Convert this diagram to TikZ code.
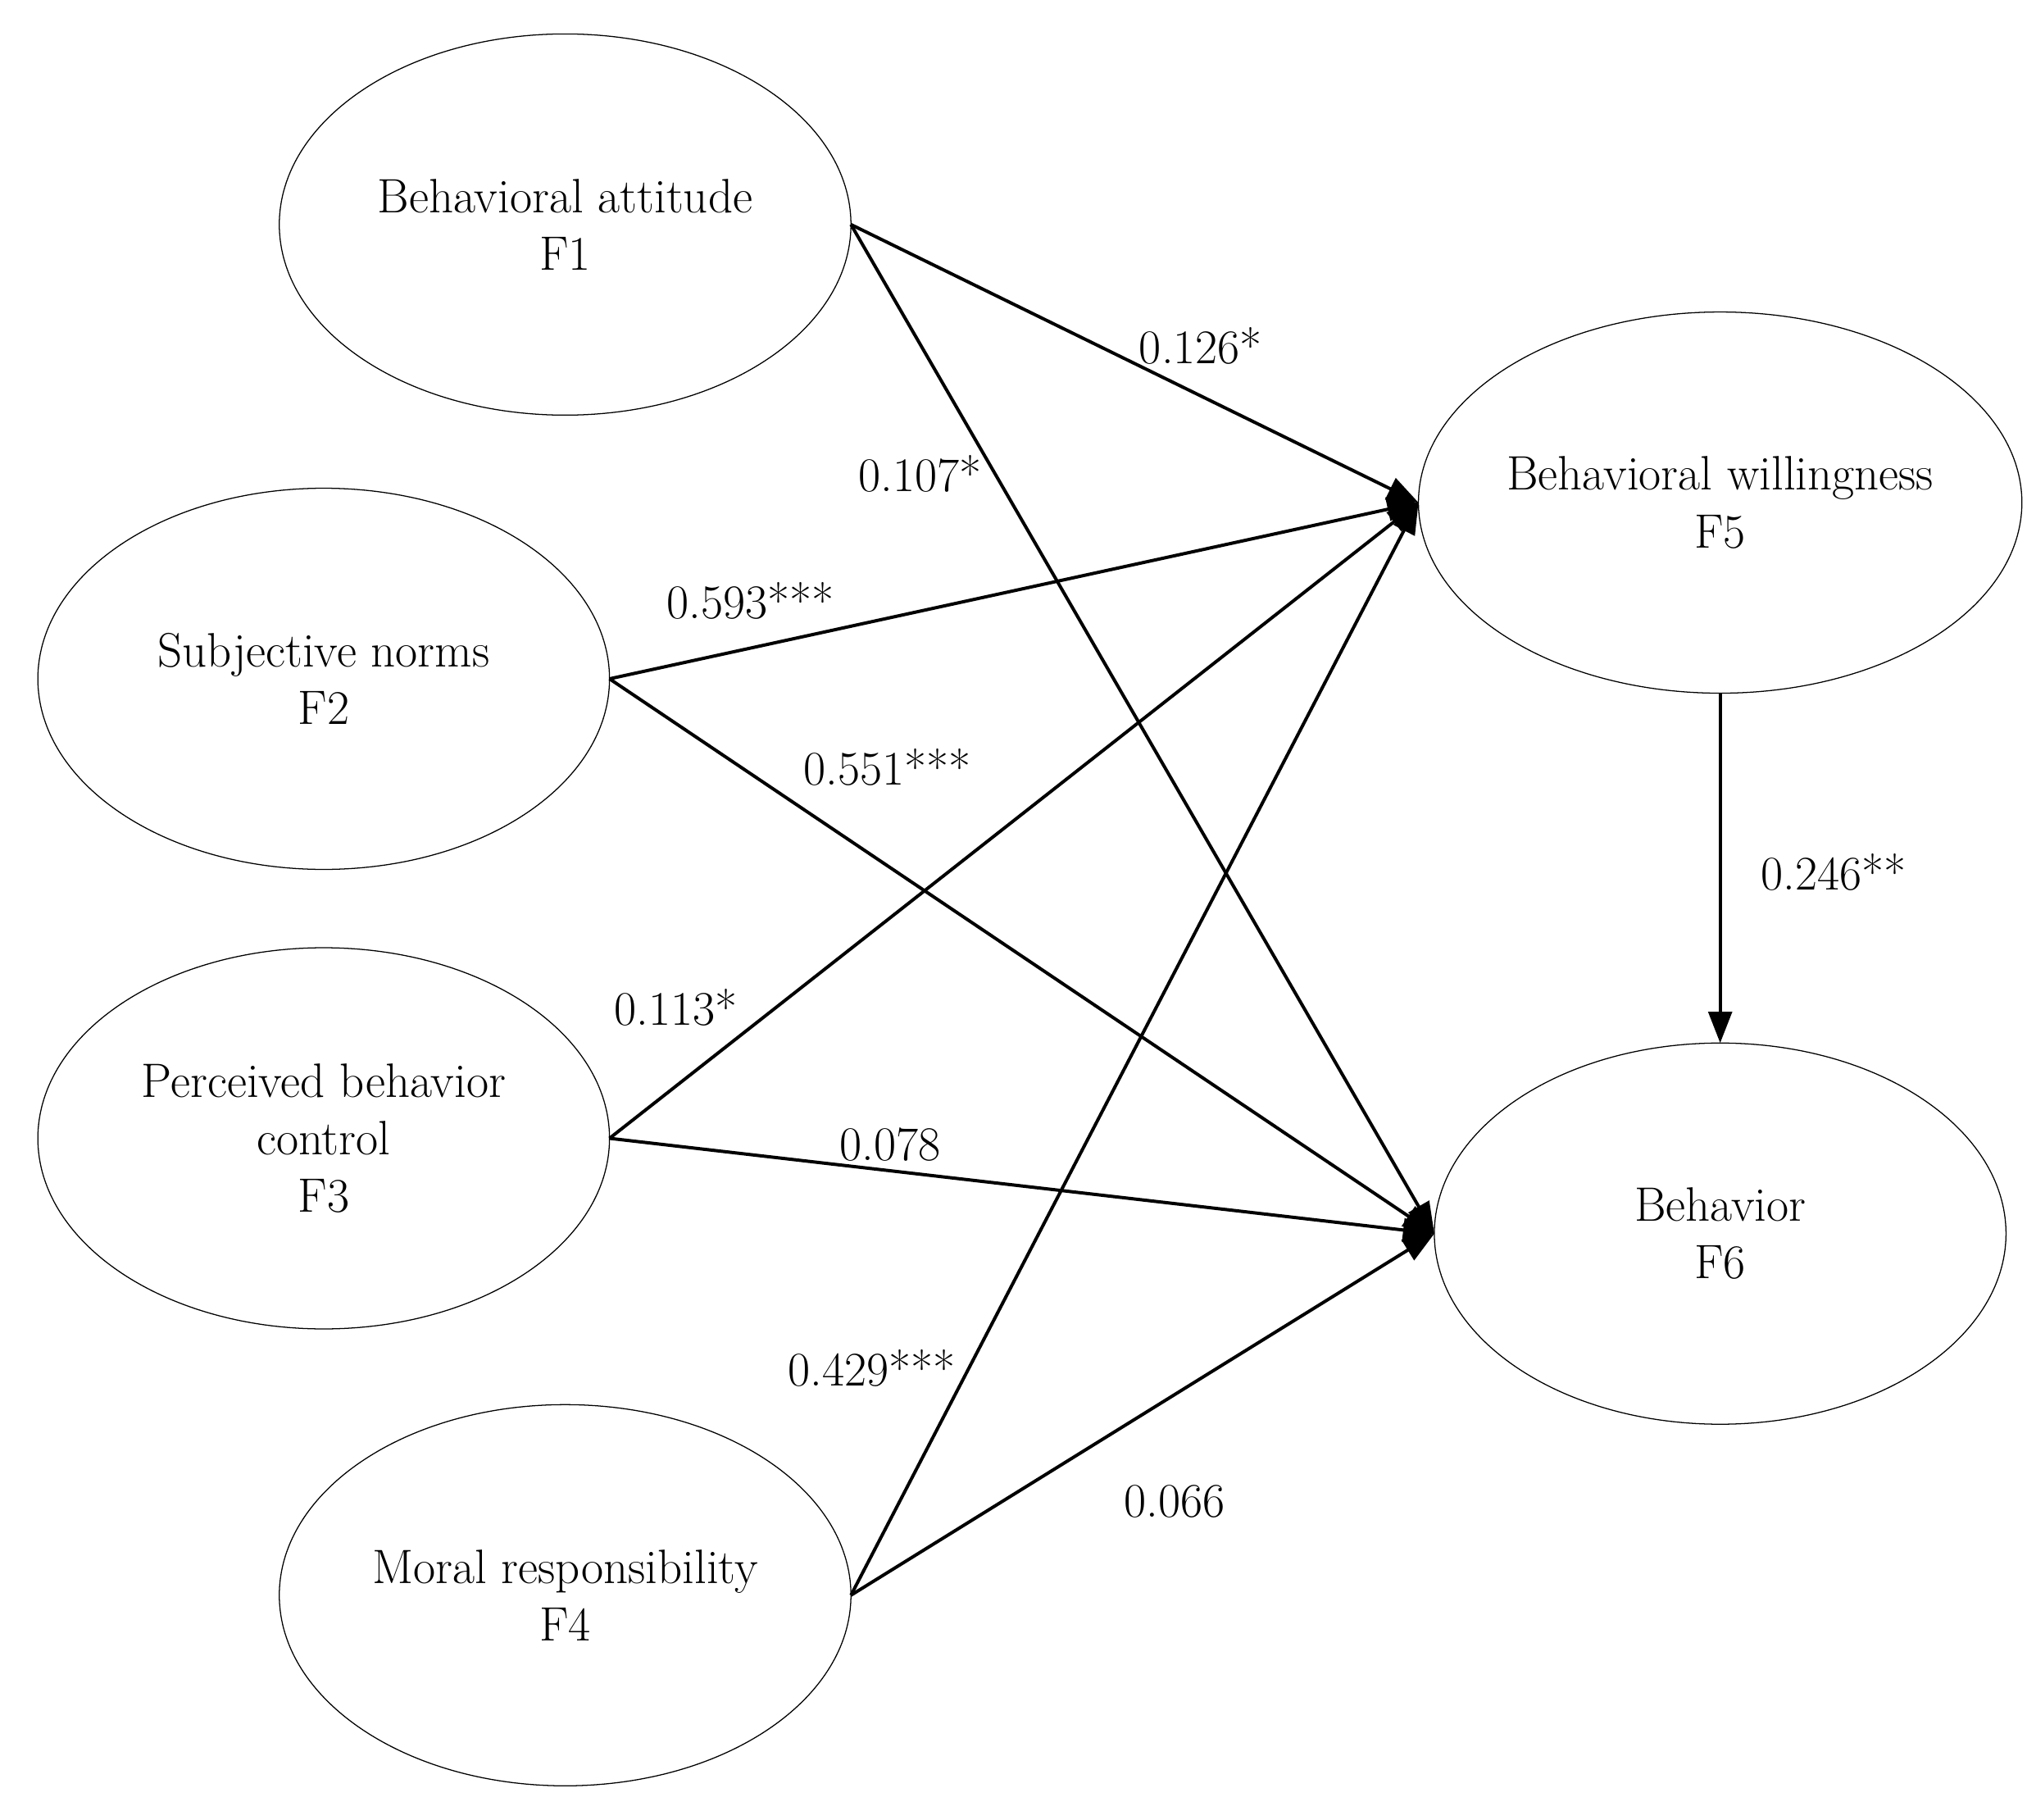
\documentclass[tikz,border=0pt]{standalone}
\usetikzlibrary{arrows.meta,shapes.geometric}
\begin{document}
\begin{tikzpicture}[x=1pt,y=-1pt,
  lat/.style={draw,ellipse,line width=0.8pt,minimum width=438pt,minimum height=292pt,inner sep=0pt,outer sep=0pt,align=center,font=\fontsize{37}{44}\selectfont},
  path/.style={line width=2.5pt,-{Triangle[length=24pt,width=18pt]}},
  lab/.style={font=\fontsize{37}{44}\selectfont}]
\useasboundingbox (0,0) rectangle (1560,1394);
\node[lat] (F1) at (433,172) {Behavioral attitude\\F1};
\node[lat] (F2) at (248,520) {Subjective norms\\F2};
\node[lat] (F3) at (248,872) {Perceived behavior\\control\\F3};
\node[lat] (F4) at (433,1222) {Moral responsibility\\F4};
\node[lat] (F5) at (1318,385) {Behavioral willingness\\F5};
\node[lat] (F6) at (1318,945) {Behavior\\F6};
\foreach \s in {F1,F2,F3,F4}{
  \draw[path] (\s.east) -- (F5.west);
  \draw[path] (\s.east) -- (F6.west);}
\draw[path] (F5.south) -- (F6.north);
\node[lab] at (920,265) {0.126*};
\node[lab] at (705,363) {0.107*};
\node[lab] at (575,460) {0.593***};
\node[lab] at (680,588) {0.551***};
\node[lab] at (1405,668) {0.246**};
\node[lab] at (518,772) {0.113*};
\node[lab] at (682,877) {0.078};
\node[lab] at (668,1048) {0.429***};
\node[lab] at (900,1150) {0.066};
\end{tikzpicture}
\end{document}
